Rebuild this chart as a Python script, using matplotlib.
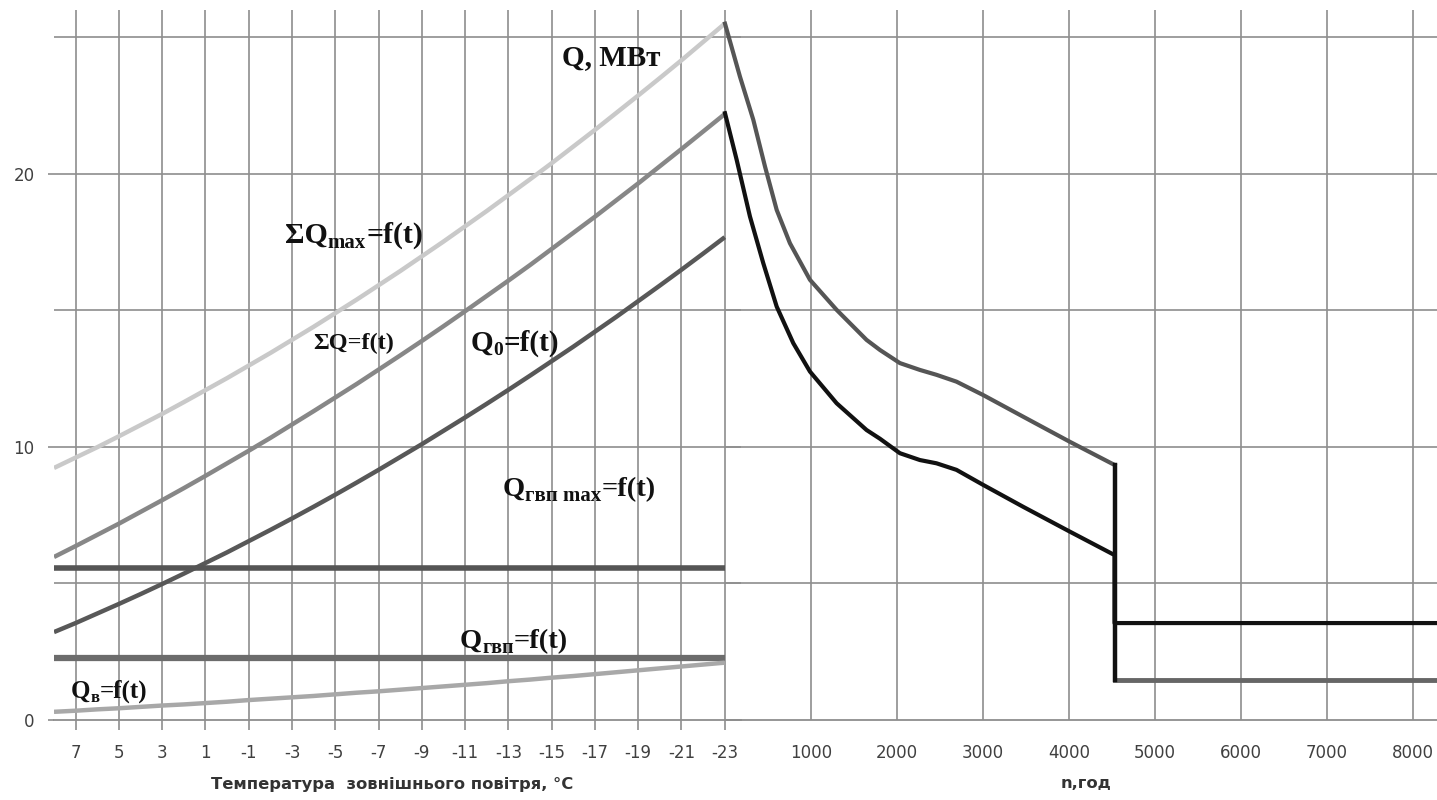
import matplotlib
matplotlib.use('Agg')
import matplotlib.pyplot as plt

# ---------------- data: left panel (outdoor temperature, °C) ----------------
temps = [8, 7, 6, 5, 4, 3, 2, 1, 0, -1, -2, -3, -4, -5, -6, -7, -8, -9, -10, -11,
         -12, -13, -14, -15, -16, -17, -18, -19, -20, -21, -22, -23]
q_sum_max = [9.23, 9.61, 9.99, 10.39, 10.80, 11.21, 11.64, 12.08, 12.52, 12.98,
             13.44, 13.92, 14.40, 14.90, 15.40, 15.92, 16.44, 16.98, 17.52, 18.08,
             18.64, 19.22, 19.80, 20.39, 21.00, 21.61, 22.24, 22.87, 23.51, 24.16,
             24.83, 25.50]
q_sum = [5.97, 6.37, 6.78, 7.19, 7.62, 8.05, 8.49, 8.94, 9.40, 9.86,
         10.33, 10.82, 11.31, 11.81, 12.31, 12.83, 13.35, 13.88, 14.42, 14.97,
         15.53, 16.09, 16.66, 17.25, 17.84, 18.43, 19.04, 19.65, 20.28, 20.91,
         21.55, 22.19]
q_heat = [3.22, 3.55, 3.90, 4.25, 4.61, 4.98, 5.36, 5.75, 6.14, 6.55,
          6.96, 7.38, 7.81, 8.25, 8.70, 9.16, 9.63, 10.10, 10.59, 11.08,
          11.58, 12.09, 12.61, 13.14, 13.67, 14.22, 14.77, 15.34, 15.91, 16.49,
          17.08, 17.68]
q_vent = [0.30, 0.34, 0.39, 0.43, 0.48, 0.53, 0.57, 0.62, 0.67, 0.73,
          0.78, 0.83, 0.88, 0.94, 1.00, 1.05, 1.11, 1.17, 1.23, 1.29,
          1.35, 1.42, 1.48, 1.55, 1.61, 1.68, 1.75, 1.82, 1.89, 1.96,
          2.03, 2.10]
q_hw_max = [5.57] * len(temps)
q_hw = [2.27] * len(temps)

temp_ticks = [7, 5, 3, 1, -1, -3, -5, -7, -9, -11, -13, -15, -17, -19, -21, -23]
temp_labels = ['7', '5', '3', '1', '-1', '-3', '-5', '-7', '-9', '-11', '-13',
               '-15', '-17', '-19', '-21', '-23']

# ---------------- data: right panel (duration, hours) ----------------
n_upper = [0, 174, 329, 465, 601, 755, 988, 1298, 1646, 1802, 2034, 2266, 2460,
           2692, 3002, 3466, 4009, 4530]
q_upper = [25.5, 23.56, 21.98, 20.27, 18.68, 17.46, 16.12, 15.02, 13.92, 13.55,
           13.07, 12.82, 12.64, 12.39, 11.9, 11.11, 10.19, 9.34]
n_lower = [0, 136, 290, 445, 601, 794, 988, 1298, 1646, 1802, 2034, 2266, 2460,
           2692, 3002, 3466, 4009, 4530, 4530, 8280]
q_lower = [22.22, 20.51, 18.44, 16.73, 15.14, 13.8, 12.76, 11.6, 10.62, 10.3,
           9.77, 9.52, 9.40, 9.16, 8.61, 7.81, 6.90, 6.04, 3.55, 3.55]
n_summer = [4530, 8280]
q_summer = [1.47, 1.47]
n_step = [4530, 4530]
q_step = [9.34, 1.47]
hour_ticks = [1000, 2000, 3000, 4000, 5000, 6000, 7000, 8000]
hour_labels = ['1000', '2000', '3000', '4000', '5000', '6000', '7000', '8000']

y_major = [0, 10, 20]
y_grid = [5, 10, 15, 20, 25]

W, H = 1437, 800
fig = plt.figure(figsize=(W / 100, H / 100), dpi=100)
fig.patch.set_facecolor('white')

grid_c = '#8e8e8e'
tick_c = '#404040'

axL = fig.add_axes([54 / W, 80 / H, 687 / W, 710 / H])
axR = fig.add_axes([725 / W, 80 / H, 712 / W, 710 / H])
axR.patch.set_alpha(0)

for ax in (axL, axR):
    ax.set_ylim(0, 26)
    for s in ('top', 'right', 'left'):
        ax.spines[s].set_visible(False)
    ax.spines['bottom'].set_color(grid_c)
    ax.spines['bottom'].set_linewidth(1.3)
    for y in y_grid:
        ax.axhline(y, color=grid_c, lw=1.2, zorder=0)

axL.set_xlim(8, -23.75)
axL.set_xticks(temp_ticks)
axL.set_xticklabels(temp_labels)
axL.grid(axis='x', color=grid_c, lw=1.2, zorder=0)
axL.tick_params(axis='x', length=7, width=1.2, color=grid_c, pad=10,
                labelsize=12, labelcolor=tick_c)
axL.set_yticks(y_major)
axL.set_yticklabels([str(v) for v in y_major])
axL.tick_params(axis='y', length=4, width=1.2, color=grid_c, pad=10,
                labelsize=12, labelcolor=tick_c)

axR.set_xlim(0, 8280)
axR.set_xticks(hour_ticks)
axR.set_xticklabels(hour_labels)
axR.grid(axis='x', color=grid_c, lw=1.2, zorder=0)
axR.tick_params(axis='x', length=0, pad=17, labelsize=12, labelcolor=tick_c)
axR.set_yticks([])

for ax in (axL, axR):
    ax.set_axisbelow(True)

# left curves
axL.plot(temps, q_sum_max, color='#c9c9c9', lw=3.2, solid_capstyle='butt', zorder=3)
axL.plot(temps, q_sum, color='#878787', lw=3.2, solid_capstyle='butt', zorder=3)
axL.plot(temps, q_heat, color='#585858', lw=3.2, solid_capstyle='butt', zorder=3)
axL.plot(temps, q_hw_max, color='#555555', lw=4.0, solid_capstyle='butt', zorder=3)
axL.plot(temps, q_hw, color='#6c6c6c', lw=4.5, solid_capstyle='butt', zorder=3)
axL.plot(temps, q_vent, color='#a8a8a8', lw=3.2, solid_capstyle='butt', zorder=3)

# right curves
axR.plot(n_upper, q_upper, color='#555555', lw=3.0, zorder=3, clip_on=False,
         solid_joinstyle='round')
axR.plot(n_lower, q_lower, color='#111111', lw=3.0, zorder=4, clip_on=False,
         solid_joinstyle='round')
axR.plot(n_summer, q_summer, color='#666666', lw=3.5, zorder=3)
axR.plot(n_step, q_step, color='#111111', lw=3.2, zorder=4)

# ---------------- annotations (main text + subscript pieces) ----------------
renderer = fig.canvas.get_renderer()
SERIF = 'Liberation Serif'


def label(px, py, pieces):
    """pieces: list of (text, fontsize_pt, baseline_drop_px). px/py: figure pixels
    from top-left, py is the main baseline."""
    x = px
    for txt, size, drop in pieces:
        t = fig.text(x / W, 1 - (py + drop) / H, txt, fontsize=size, family=SERIF,
                     fontweight='bold', color='#111111', ha='left', va='baseline',
                     zorder=10)
        bb = t.get_window_extent(renderer)
        x += bb.width


label(562, 65, [('Q, МВт', 21, 0)])
label(285, 243, [('ΣQ', 21.5, 0), ('max', 15, 5), ('=f(t)', 21.5, 0)])
label(313, 349, [('ΣQ=f(t)', 17.5, 0)])
label(471, 351, [('Q', 21, 0), ('0', 14, 4), ('=f(t)', 21, 0)])
label(503, 496, [('Q', 20.5, 0), ('гвп max', 15, 5), ('=f(t)', 20.5, 0)])
label(460, 648, [('Q', 20.5, 0), ('гвп', 14.5, 5), ('=f(t)', 20.5, 0)])
label(71, 698, [('Q', 18, 0), ('в', 12, 4), ('=f(t)', 18, 0)])

fig.text(392 / W, 1 - 784 / H, 'Температура  зовнішнього повітря, °С',
         ha='center', va='center', fontsize=11.8, fontweight='bold', color='#333333')
fig.text(1086 / W, 1 - 784 / H, 'n,год', ha='center', va='center',
         fontsize=11.8, fontweight='bold', color='#333333')

fig.savefig('out.png', dpi=100, facecolor='white')
